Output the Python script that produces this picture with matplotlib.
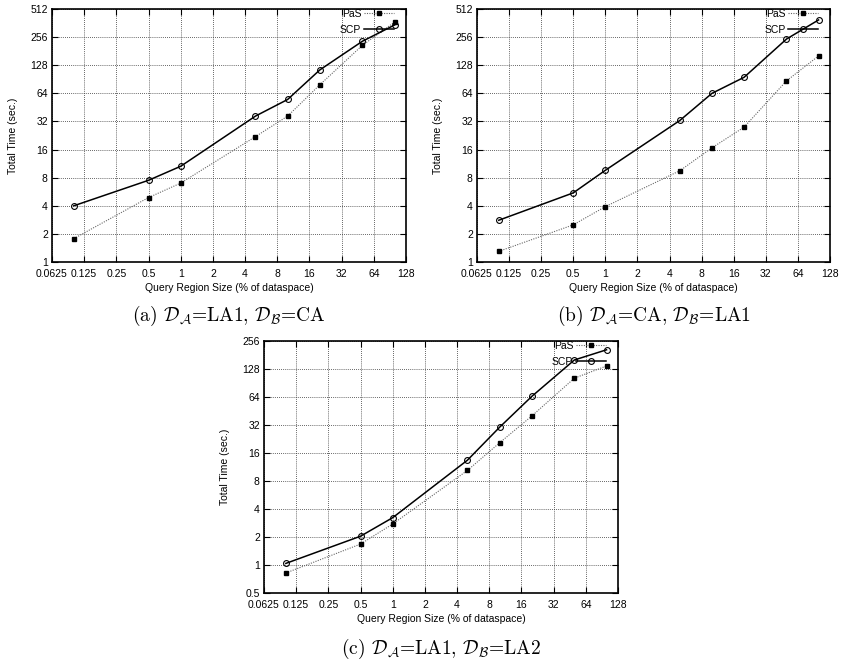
import matplotlib
matplotlib.use("Agg")
import matplotlib.pyplot as plt
from matplotlib.ticker import FixedLocator, FixedFormatter, NullLocator

plt.rcParams['font.family'] = ['Liberation Sans', 'DejaVu Sans']
plt.rcParams['mathtext.fontset'] = 'cm'

# query region size (% of dataspace)
region = [0.1, 0.5, 1, 5, 10, 20, 50, 100]

# (a) LA1 / CA
pas_a = [1.78, 4.9, 7.0, 22, 36.5, 79, 209, 370]
scp_a = [4.0, 7.5, 10.6, 36.5, 55, 114, 231, 345]
# (b) CA / LA1
pas_b = [1.30, 2.5, 3.92, 9.5, 16.7, 27.8, 87, 161]
scp_b = [2.8, 5.5, 9.6, 32.8, 64, 95, 244, 391]
# (c) LA1 / LA2
pas_c = [0.82, 1.68, 2.76, 10.4, 20.6, 40, 102, 138]
scp_c = [1.04, 2.04, 3.23, 13.4, 30.3, 65, 160, 206]

x_ticks = [0.0625, 0.125, 0.25, 0.5, 1, 2, 4, 8, 16, 32, 64, 128]
x_labels = ['0.0625', '0.125', '0.25', '0.5', '1', '2', '4', '8', '16', '32', '64', '128']
y_ticks_ab = [1, 2, 4, 8, 16, 32, 64, 128, 256, 512]
y_ticks_c = [0.5, 1, 2, 4, 8, 16, 32, 64, 128, 256]

captions = [
    r'(a) $\mathcal{D}_{\mathcal{A}}$=LA1, $\mathcal{D}_{\mathcal{B}}$=CA',
    r'(b) $\mathcal{D}_{\mathcal{A}}$=CA, $\mathcal{D}_{\mathcal{B}}$=LA1',
    r'(c) $\mathcal{D}_{\mathcal{A}}$=LA1, $\mathcal{D}_{\mathcal{B}}$=LA2',
]

W, H = 845, 662
fig = plt.figure(figsize=(W / 100, H / 100), dpi=100)


def panel(box, pas, scp, y_ticks, caption, cap_y):
    l, t, r, b = box
    ax = fig.add_axes([l / W, 1 - b / H, (r - l) / W, (b - t) / H])
    ax.set_xscale('log', base=2)
    ax.set_yscale('log', base=2)
    ax.plot(region, pas, linestyle=(0, (1, 1.2)), color='#666666', lw=0.8,
            marker='s', markersize=3.2, mfc='black', mec='black', label='PaS')
    ax.plot(region, scp, linestyle='-', color='black', lw=1.1,
            marker='o', markersize=4.2, mfc='none', mec='black', mew=0.8, label='SCP')
    ax.set_xlim(x_ticks[0], x_ticks[-1])
    ax.set_ylim(y_ticks[0], y_ticks[-1])
    ax.xaxis.set_major_locator(FixedLocator(x_ticks))
    ax.xaxis.set_major_formatter(FixedFormatter(x_labels))
    ax.yaxis.set_major_locator(FixedLocator(y_ticks))
    ax.yaxis.set_major_formatter(FixedFormatter([('%g' % v) for v in y_ticks]))
    ax.xaxis.set_minor_locator(NullLocator())
    ax.yaxis.set_minor_locator(NullLocator())
    ax.tick_params(direction='in', length=4, width=0.8, labelsize=7.5,
                   top=True, right=True, pad=3)
    ax.tick_params(axis='x', pad=5)
    ax.grid(True, linestyle=(0, (1, 1.5)), color='#333333', lw=0.6)
    for s in ax.spines.values():
        s.set_linewidth(1.2)
    ax.set_xlabel('Query Region Size (% of dataspace)', fontsize=7.5, labelpad=3)
    ax.set_ylabel('Total Time (sec.)', fontsize=7.5, labelpad=9)
    ax.legend(loc='upper right', bbox_to_anchor=(0.965, 1.0), frameon=False,
              markerfirst=False, fontsize=7.5, handlelength=2.8,
              handletextpad=0.3, labelspacing=0.55, borderaxespad=0, borderpad=0)
    fig.text((l + r) / 2 / W, 1 - cap_y / H, caption, ha='center', va='center',
             fontsize=14, family=['cmr10', 'DejaVu Serif'])
    return ax


panel((52, 9, 406, 262), pas_a, scp_a, y_ticks_ab, captions[0], 316)
panel((477, 9, 830, 262), pas_b, scp_b, y_ticks_ab, captions[1], 316)
panel((264, 341, 618, 593), pas_c, scp_c, y_ticks_c, captions[2], 649)

fig.savefig('out.png', dpi=100)
